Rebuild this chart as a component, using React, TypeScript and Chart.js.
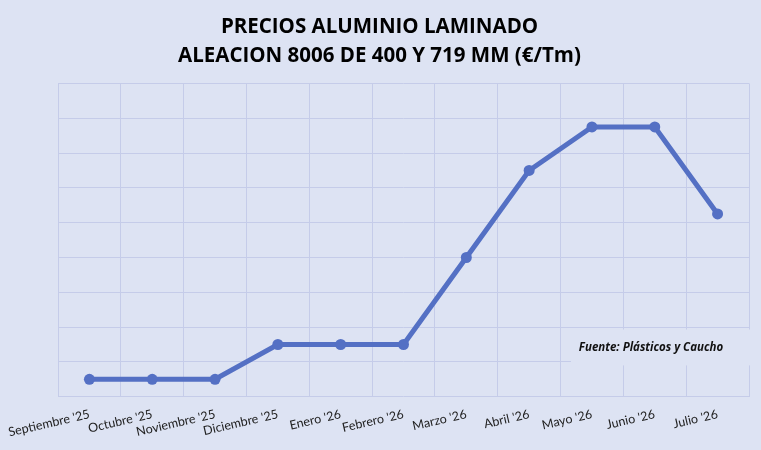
import React, { useEffect, useRef } from "react";
import { Chart, registerables } from "chart.js";

Chart.register(...registerables);

// Months shown on the x axis
const months = [
  "Septiembre '25",
  "Octubre '25",
  "Noviembre '25",
  "Diciembre '25",
  "Enero '26",
  "Febrero '26",
  "Marzo '26",
  "Abril '26",
  "Mayo '26",
  "Junio '26",
  "Julio '26",
];

// Price level (relative units, the reference has no y labels)
const prices = [0.5, 0.5, 0.5, 1.5, 1.5, 1.5, 4, 6.5, 7.75, 7.75, 5.25];

const yMin = 0;
const yMax = 9;

const titleLines = ["PRECIOS ALUMINIO LAMINADO", "ALEACION 8006 DE 400 Y 719 MM (€/Tm)"];
const sourceNote = "Fuente: Plásticos y Caucho";

const BG = "#dde3f3";

// Box with the source note, laid over the lower right of the grid
const sourceBox = {
  id: "sourceBox",
  afterDraw(chart: Chart) {
    const { ctx, chartArea } = chart;
    const y = chart.scales.y;
    const x0 = chartArea.right - 178;
    const top = y.getPixelForValue(1.93);
    const bottom = y.getPixelForValue(0.9);
    ctx.save();
    ctx.fillStyle = BG;
    ctx.fillRect(x0, top, chartArea.right - x0 + 1, bottom - top);
    ctx.fillStyle = "#111";
    ctx.font = "italic bold 11.5px 'Open Sans', sans-serif";
    ctx.textAlign = "center";
    ctx.textBaseline = "middle";
    ctx.fillText(sourceNote, x0 + 80, (top + bottom) / 2);
    ctx.restore();
  },
};

const background = {
  id: "background",
  beforeDraw(chart: Chart) {
    const { ctx, width, height } = chart;
    ctx.save();
    ctx.fillStyle = BG;
    ctx.fillRect(0, 0, width, height);
    ctx.restore();
  },
};

export default function App() {
  const canvasRef = useRef<HTMLCanvasElement | null>(null);
  const chartRef = useRef<Chart | null>(null);

  useEffect(() => {
    document.body.style.margin = "0";
    if (!canvasRef.current) return;
    const ctx = canvasRef.current.getContext("2d");
    if (!ctx) return;

    if (chartRef.current) {
      chartRef.current.destroy();
    }

    chartRef.current = new Chart(ctx, {
      type: "line",
      data: {
        labels: months,
        datasets: [
          {
            label: "Precio",
            data: prices,
            borderColor: "#5470c4",
            backgroundColor: "#5470c4",
            borderWidth: 5,
            pointRadius: 5.5,
            pointBorderWidth: 0,
            tension: 0,
          },
        ],
      },
      options: {
        animation: false,
        responsive: true,
        maintainAspectRatio: false,
        layout: {
          padding: { left: 10, right: 12, top: 6, bottom: 0 },
        },
        plugins: {
          legend: { display: false },
          tooltip: { enabled: false },
          title: {
            display: true,
            text: titleLines,
            color: "#000",
            font: { family: "'Open Sans', sans-serif", size: 20.5, weight: "bold", lineHeight: 1.45 },
            padding: { top: 6, bottom: 12 },
          },
        },
        scales: {
          x: {
            offset: true,
            afterFit: (scale: any) => {
              scale.paddingLeft = 0;
            },
            grid: { color: "#c5cce9", lineWidth: 1, offset: true, drawTicks: false },
            border: { display: false },
            ticks: {
              color: "#222",
              font: { family: "Lato, sans-serif", size: 12.5 },
              minRotation: 13,
              maxRotation: 13,
              padding: 10,
              autoSkip: false,
            },
          },
          y: {
            min: yMin,
            max: yMax,
            afterFit: (scale: any) => {
              scale.width = 48;
            },
            ticks: { display: false, stepSize: 1 },
            grid: { color: "#c5cce9", lineWidth: 1, drawTicks: false },
            border: { display: false },
          },
        },
      },
      plugins: [background, sourceBox],
    });

    return () => {
      if (chartRef.current) {
        chartRef.current.destroy();
        chartRef.current = null;
      }
    };
  }, []);

  return (
    <div style={{ width: 761, height: 450 }}>
      <canvas ref={canvasRef} />
    </div>
  );
}
